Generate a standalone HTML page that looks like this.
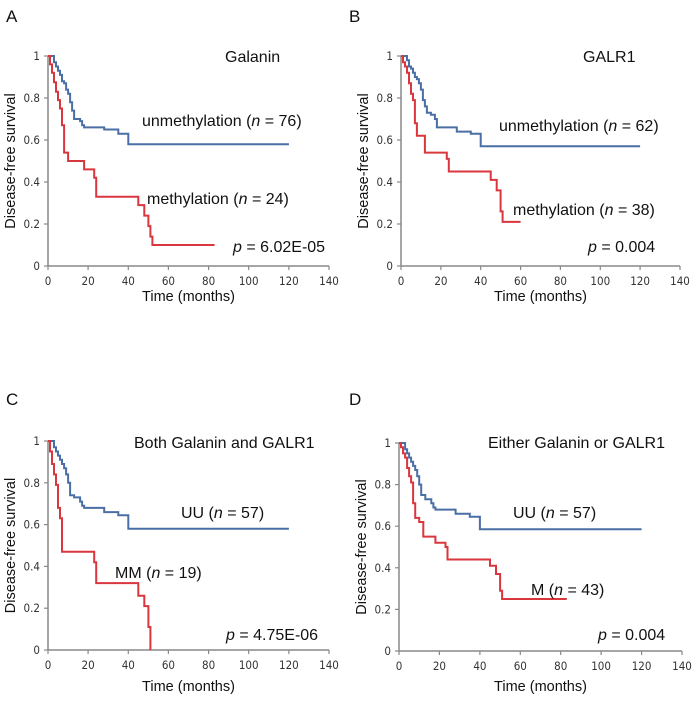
<!DOCTYPE html>
<html><head><meta charset="utf-8"><style>
body{margin:0;background:#fff;}
svg{display:block;font-family:"Liberation Sans",sans-serif;}
.tk{font-family:"DejaVu Sans Condensed","Liberation Sans Narrow","Liberation Sans",sans-serif;font-size:11.5px;fill:#333;}
.lb{font-size:16px;fill:#111;}
.ax{font-size:14.5px;fill:#111;}
</style></head><body>
<svg id="fig" width="693" height="708" viewBox="0 0 693 708"></svg>
<script>
// Panel A data
const aBlueT=[0,3,4,5,6,7,8,9,10,11,12,13,16,17,18,28,35,40,120];
const aBlueS=[1,0.97,0.95,0.93,0.91,0.88,0.87,0.84,0.82,0.78,0.74,0.70,0.69,0.67,0.66,0.65,0.63,0.58,0.58];
const aRedT=[0,1,2,3,4,5,6,7,8,10,18,23,24,45,48,50,51,52,83];
const aRedS=[1,0.96,0.92,0.875,0.83,0.79,0.75,0.67,0.54,0.50,0.46,0.42,0.33,0.29,0.24,0.19,0.14,0.10,0.10];
// Panel B data
const bBlueT=[0,3,4,5,6,7,8,9,10,11,12,13,15,17,18,28,35,40,120];
const bBlueS=[1,0.98,0.95,0.94,0.92,0.90,0.89,0.87,0.84,0.79,0.76,0.73,0.72,0.70,0.66,0.64,0.63,0.57,0.57];
const bRedT=[0,1,2,3,4,5,6,7,8,12,23,24,45,48,50,51,60];
const bRedS=[1,0.97,0.95,0.92,0.87,0.82,0.79,0.68,0.62,0.54,0.51,0.45,0.41,0.36,0.26,0.21,0.21];
// Panel C data
const cBlueT=[0,3,4,5,6,7,8,9,10,11,13,16,17,18,28,35,40,120];
const cBlueS=[1,0.97,0.95,0.93,0.91,0.89,0.87,0.84,0.80,0.74,0.73,0.71,0.69,0.68,0.66,0.645,0.58,0.58];
const cRedT=[0,1,2,3,4,5,6,7,23,24,45,48,50,51];
const cRedS=[1,0.95,0.89,0.84,0.79,0.68,0.63,0.47,0.42,0.32,0.26,0.21,0.11,0];
// Panel D data
const dBlueT=[0,3,4,5,6,7,8,9,10,11,13,16,17,18,28,35,40,120];
const dBlueS=[1,0.97,0.95,0.93,0.91,0.89,0.87,0.84,0.80,0.75,0.73,0.71,0.69,0.68,0.66,0.645,0.585,0.585];
const dRedT=[0,1,2,3,4,5,6,7,8,10,12,18,23,24,45,48,50,51,83];
const dRedS=[1,0.98,0.95,0.93,0.88,0.84,0.81,0.71,0.64,0.62,0.55,0.52,0.50,0.44,0.41,0.37,0.29,0.25,0.25];
const xTicks=[0,20,40,60,80,100,120,140];
const yTicks=[0,0.2,0.4,0.6,0.8,1];
const yTickLabels=["0","0.2","0.4","0.6","0.8","1"];

const NS="http://www.w3.org/2000/svg";
const svg=document.getElementById('fig');
function mk(tag,attrs,parent){const e=document.createElementNS(NS,tag);for(const k in attrs)e.setAttribute(k,attrs[k]);(parent||svg).appendChild(e);return e;}

const panels=[
 {id:'a',letter:'A',lx:6,ly:22,x0:48,x1:329,y1:56,y0:266,bt:aBlueT,bs:aBlueS,rt:aRedT,rs:aRedS,xt:301,
  texts:[['Galanin',225,62,''],['unmethylation (',142,126,'n',' = 76)'],['methylation (',147,204,'n',' = 24)'],['',233,252,'p',' = 6.02E-05']]},
 {id:'b',letter:'B',lx:349,ly:22,x0:401,x1:680,y1:56,y0:266,bt:bBlueT,bs:bBlueS,rt:bRedT,rs:bRedS,xt:301,
  texts:[['GALR1',583,62,''],['unmethylation (',499,131,'n',' = 62)'],['methylation (',513,215,'n',' = 38)'],['',588,252,'p',' = 0.004']]},
 {id:'c',letter:'C',lx:6,ly:405,x0:48,x1:329,y1:441,y0:650,bt:cBlueT,bs:cBlueS,rt:cRedT,rs:cRedS,xt:691,
  texts:[['Both Galanin and GALR1',134,448,''],['UU (',181,518,'n',' = 57)'],['MM (',115,578,'n',' = 19)'],['',226,640,'p',' = 4.75E-06']]},
 {id:'d',letter:'D',lx:349,ly:405,x0:399,x1:682,y1:443,y0:651,bt:dBlueT,bs:dBlueS,rt:dRedT,rs:dRedS,xt:691,
  texts:[['Either Galanin or GALR1',488,448,''],['UU (',513,518,'n',' = 57)'],['M (',531,595,'n',' = 43)'],['',598,640,'p',' = 0.004']]}
];

function stepPath(T,S,xs,ys){
  let d='M'+xs(T[0])+','+ys(S[0]);
  for(let i=1;i<T.length;i++){d+=' H'+xs(T[i])+' V'+ys(S[i]);}
  return d;
}

panels.forEach(p=>{
  const g=mk('g',{});
  
  
  const xs=t=>(p.x0+(p.x1-p.x0)*t/140).toFixed(1);
  const ys=s=>(p.y0-(p.y0-p.y1)*s).toFixed(1);
  const L=mk('text',{x:p.lx,y:p.ly,'font-size':17,fill:'#111'},g);L.textContent=p.letter;
  
  
  const ya=mk('line',{x1:p.x0,y1:p.y1,x2:p.x0,y2:p.y0,stroke:'#888','stroke-width':1.5},g);
  
  
  const xa=mk('line',{x1:p.x0,y1:p.y0,x2:p.x1,y2:p.y0,stroke:'#888','stroke-width':1.5},g);
  
  
  xTicks.forEach(t=>{
    mk('line',{x1:xs(t),y1:p.y0,x2:xs(t),y2:p.y0+4,stroke:'#888','stroke-width':1.2},g);
    const tx=mk('text',{x:xs(t),y:p.y0+19,'text-anchor':'middle',class:'tk'},g);tx.textContent=t;
    
    
  });
  yTicks.forEach((v,i)=>{
    mk('line',{x1:p.x0-4,y1:ys(v),x2:p.x0,y2:ys(v),stroke:'#888','stroke-width':1.2},g);
    const ty=mk('text',{x:p.x0-8,y:+ys(v)+4,'text-anchor':'end',class:'tk'},g);ty.textContent=yTickLabels[i];
    
    
  });
  const yt=mk('text',{x:0,y:0,'text-anchor':'middle',class:'ax',transform:`translate(${p.x0-33},${(p.y0+p.y1)/2}) rotate(-90)`},g);
  yt.textContent='Disease-free survival';
  
  
  const xt=mk('text',{x:(p.x0+p.x1)/2,y:p.xt,'text-anchor':'middle',class:'ax'},g);
  xt.textContent='Time (months)';
  
  
  const bl=mk('path',{d:stepPath(p.bt,p.bs,xs,ys),fill:'none',stroke:'#4a6fa5','stroke-width':2},g);
  
  
  const rl=mk('path',{d:stepPath(p.rt,p.rs,xs,ys),fill:'none',stroke:'#d9363e','stroke-width':2},g);
  
  
  p.texts.forEach(tt=>{
    const t=mk('text',{x:tt[1],y:tt[2],class:'lb'},g);
    
    
    const a=mk('tspan',{},t);a.textContent=tt[0];
    if(tt[3]){const b=mk('tspan',{'font-style':'italic'},t);b.textContent=tt[3];
      const c=mk('tspan',{},t);c.textContent=tt[4];}
  });
});
</script>
</body></html>
